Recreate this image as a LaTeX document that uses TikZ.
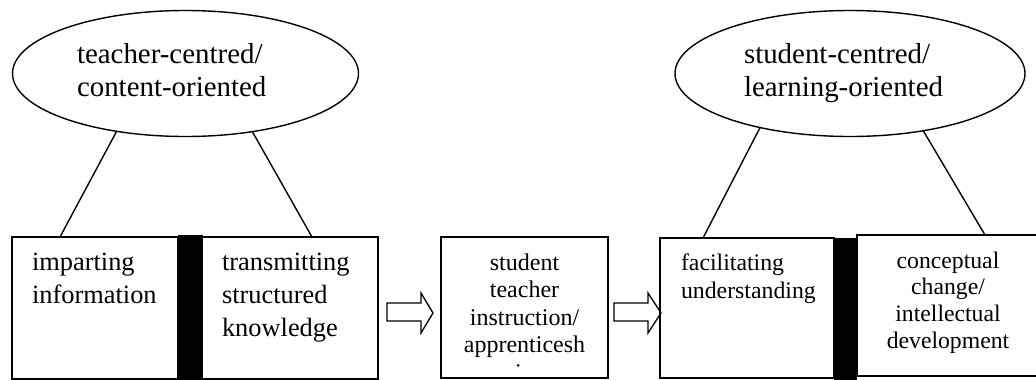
\documentclass[tikz,border=0pt]{standalone}
\usepackage{fontspec}
\setmainfont{Liberation Serif}
\usetikzlibrary{shapes.geometric,calc}

% text block whose baseline is the baseline of its first line
\newcommand\blocktext[4]{\parbox[t]{#1}{\fontsize{#2}{#3}\selectfont #4}}

\tikzset{
  oval/.style={ellipse, draw, line width=1.4pt, inner sep=0pt, outer sep=0pt},
  box/.style={rectangle, draw, line width=1.6pt, inner sep=0pt, outer sep=0pt, anchor=north west},
  divider/.style={rectangle, fill=black, inner sep=0pt, outer sep=0pt, anchor=north west},
  link/.style={line width=1.4pt},
  blockarr/.style={draw, line width=1.3pt, line join=miter},
  txt/.style={inner sep=0pt, outer sep=0pt, anchor=base west},
  ctxt/.style={inner sep=0pt, outer sep=0pt, anchor=base},
}

\begin{document}
\begin{tikzpicture}[x=1pt,y=-1pt]
\useasboundingbox (0,0) rectangle (1036,380);

% orientation ovals
\node[oval, minimum width=346pt, minimum height=126pt] (e1) at (185.5,73.5) {};
\node[oval, minimum width=350pt, minimum height=126pt] (e2) at (850,73.5) {};
\node[txt] (t1) at (77,63.3) {\blocktext{300pt}{28.9}{33.4}{teacher-centred/\\content-oriented}};
\node[txt] (t2) at (744,63.3) {\blocktext{300pt}{28.9}{33.4}{student-centred/\\learning-oriented}};

% conception boxes
\node[box, minimum width=166pt, minimum height=142pt] (b1) at (12,237) {};
\node[box, minimum width=176pt, minimum height=142pt] (b1b) at (202,237) {};
\node[box, minimum width=167pt, minimum height=141pt] (b2) at (441,237) {};
\node[box, minimum width=174pt, minimum height=140pt] (b3) at (660,238) {};
\node[box, minimum width=183pt, minimum height=141pt] (b4) at (857,235) {};

% dividers between paired boxes
\node[divider, minimum width=25pt, minimum height=145pt] (d1) at (178,235) {};
\node[divider, minimum width=23pt, minimum height=142pt] (d2) at (834,238) {};

% box texts
\node[txt] (bt1) at (32,270) {\blocktext{150pt}{26.4}{33}{imparting\\information}};
\node[txt] (bt1b) at (222,270) {\blocktext{160pt}{26.4}{33}{transmitting\\structured\\knowledge}};
\begin{scope}
  % the wrapped last line runs past the bottom of the frame
  \clip (442,238) rectangle (607,367);
  \node[ctxt] (bt2) at (524.5,270) {\blocktext{200pt}{24}{27.6}{\centering student\\teacher\\instruction/\\apprenticesh\\ip}};
\end{scope}
\node[txt] (bt3) at (681,270) {\blocktext{160pt}{23.8}{28}{facilitating\\understanding}};
\node[ctxt] (bt4) at (948,268) {\blocktext{200pt}{23.7}{26.7}{\centering conceptual\\change/\\intellectual\\development}};

% links from ovals to boxes
\draw[link] (e1.220.9) -- ([xshift=48pt]b1.north west);
\draw[link] (e1.319.1) -- ([xshift=110pt]b1b.north west);
\draw[link] (e2.211.8) -- ([xshift=43pt]b3.north west);
\draw[link] (e2.322.8) -- ([xshift=128pt]b4.north west);

% hollow block arrows between stages
\draw[blockarr] ($(b1b.east)+(9,-5)$) -- ++(34,0) -- ++(0,-10) -- ++(12,20)
  -- ++(-12,20) -- ++(0,-12) -- ++(-34,0) -- cycle;
\draw[blockarr] ($(b2.east)+(6,-4.5)$) -- ++(34,0) -- ++(0,-10) -- ++(13,20)
  -- ++(-13,20) -- ++(0,-12) -- ++(-34,0) -- cycle;
\end{tikzpicture}
\end{document}
